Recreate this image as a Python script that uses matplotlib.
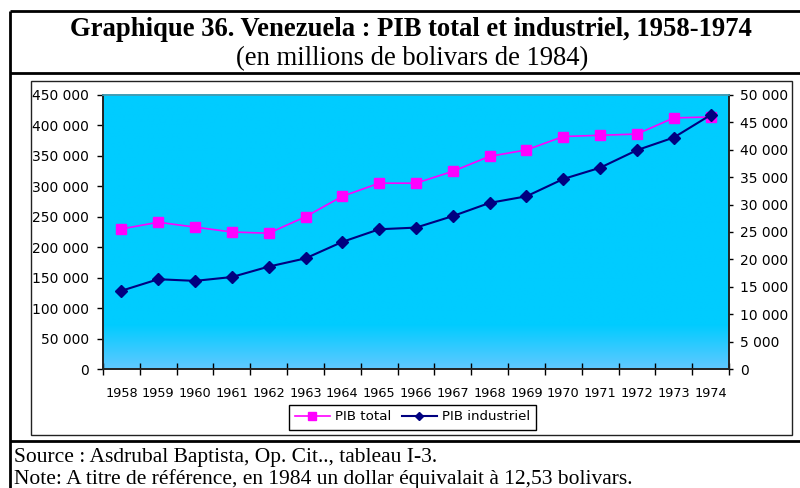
import numpy as np
import matplotlib
matplotlib.use("Agg")
import matplotlib.pyplot as plt
from matplotlib.lines import Line2D
from matplotlib.patches import Rectangle
from matplotlib.ticker import FuncFormatter, FixedLocator

# Data (millions of 1984 bolivars)
years = [str(y) for y in range(1958, 1975)]
pib_total = [230000, 241000, 233000, 225000, 223000, 250000, 283500, 305000, 305000,
             324500, 349000, 359500, 381500, 383500, 385500, 412000, 413500]
pib_industriel = [14300, 16400, 16100, 16800, 18700, 20200, 23200, 25500, 25800,
                  27900, 30300, 31500, 34650, 36700, 39900, 42200, 46300]

title = "Graphique 36. Venezuela : PIB total et industriel, 1958-1974"
subtitle = "(en millions de bolivars de 1984)"
source = "Source : Asdrubal Baptista, Op. Cit.., tableau I-3."
note = "Note: A titre de référence, en 1984 un dollar équivalait à 12,53 bolivars."

W, H = 800, 488
fig = plt.figure(figsize=(W / 100, H / 100), dpi=100)
fig.patch.set_facecolor("white")


def fx(px):
    return px / W


def fy(py):
    return 1 - py / H


# Frames around title, chart and footer
lines = [
    ((10, 10), (11, 500)),      # outer left
    ((10, 800), (11, 11)),      # outer top
    ((10, 800), (73, 73)),      # under the title block
    ((10, 800), (441, 441)),    # above the footer
]
for (x0, x1), (y0, y1) in lines:
    fig.add_artist(Line2D([fx(x0), fx(x1)], [fy(y0), fy(y1)], color="black",
                          lw=2.0, transform=fig.transFigure, solid_capstyle="butt"))
fig.add_artist(Rectangle((fx(31), fy(435)), fx(792) - fx(31), fy(81) - fy(435),
                         transform=fig.transFigure, fill=False, edgecolor="#222222", lw=1.0))

serif = "Liberation Serif"
sans = "DejaVu Sans"
fig.text(fx(411), fy(36), title, ha="center", va="baseline", family=serif,
         fontweight="bold", fontsize=19.2)
fig.text(fx(412), fy(65), subtitle, ha="center", va="baseline", family=serif,
         fontsize=19.2)
fig.text(fx(14), fy(462), source, ha="left", va="baseline", family=serif, fontsize=15.5)
fig.text(fx(14), fy(484), note, ha="left", va="baseline", family=serif, fontsize=15.5)

# Plot area
left, right, top, bottom = 103, 729, 94.7, 369.3
ax = fig.add_axes([fx(left), fy(bottom), fx(right) - fx(left), fy(top) - fy(bottom)])
ax2 = ax.twinx()

n = len(years)
x = np.arange(n)
ax.set_xlim(-0.5, n - 0.5)
ax.set_ylim(0, 450000)
ax2.set_ylim(0, 50000)

# Background: cyan with a lighter band fading in toward the base
grad_h = 256
t = np.linspace(0, 1, grad_h)  # 0 = top, 1 = bottom
start = 0.84
w = np.clip((t - start) / (1 - start), 0, 1)
c_top = np.array([0x00, 0xCC, 0xFF]) / 255
c_bot = np.array([0x60, 0xC8, 0xFF]) / 255
cols = c_top[None, :] * (1 - w[:, None]) + c_bot[None, :] * w[:, None]
img = np.repeat(cols[:, None, :], 2, axis=1)
ax.imshow(img, extent=(-0.5, n - 0.5, 0, 450000), aspect="auto", zorder=0,
          interpolation="bilinear", origin="upper")
ax.set_facecolor("#00CCFF")

ax.plot(x, pib_total, color="#FF00FF", lw=1.2, marker="s", ms=7.5,
        markeredgecolor="#FF00FF", label="PIB total", zorder=3)
ax2.plot(x, pib_industriel, color="#000080", lw=1.5, marker="D", ms=6,
         markeredgecolor="#000080", label="PIB industriel", zorder=3)

fmt = FuncFormatter(lambda v, p: f"{int(v):,}".replace(",", " "))
ax.yaxis.set_major_locator(FixedLocator(np.arange(0, 450001, 50000)))
ax2.yaxis.set_major_locator(FixedLocator(np.arange(0, 50001, 5000)))
ax.yaxis.set_major_formatter(fmt)
ax2.yaxis.set_major_formatter(fmt)

ax.tick_params(axis="y", direction="out", length=4.3, width=1, pad=5.8,
               labelsize=10, colors="black")
ax2.tick_params(axis="y", direction="out", length=3, width=1, pad=5,
                labelsize=10, colors="black")
for lab in ax.get_yticklabels() + ax2.get_yticklabels():
    lab.set_family(sans)

# Category axis: ticks on the boundaries, labels at the centres
ax.set_xticks(np.arange(-0.5, n, 1.0))
ax.set_xticklabels([])
ax.set_xticks(x, minor=True)
ax.set_xticklabels(years, minor=True, family=sans, fontsize=9.3)
ax.tick_params(axis="x", which="major", direction="inout", length=9, width=1)
ax.tick_params(axis="x", which="minor", length=0, pad=12.5)

for a in (ax, ax2):
    a.spines["left"].set_color("#222222")
    a.spines["bottom"].set_color("#222222")
    a.spines["right"].set_color("#222222")
    a.spines["top"].set_color("#3F9DB5")
    for s in a.spines.values():
        s.set_linewidth(1.2)

handles = [ax.get_lines()[0], ax2.get_lines()[0]]
leg = fig.legend(handles, ["PIB total", "PIB industriel"], loc="center",
                 bbox_to_anchor=(fx(412.5), fy(417)), ncol=2, frameon=True,
                 fancybox=False, edgecolor="black", framealpha=1,
                 prop={"family": sans, "size": 9.6}, handlelength=2.6,
                 columnspacing=0.8, handletextpad=0.4, borderpad=0.45,
                 markerscale=0.7)
leg.get_frame().set_linewidth(1.0)

fig.savefig("out.png", dpi=100)
